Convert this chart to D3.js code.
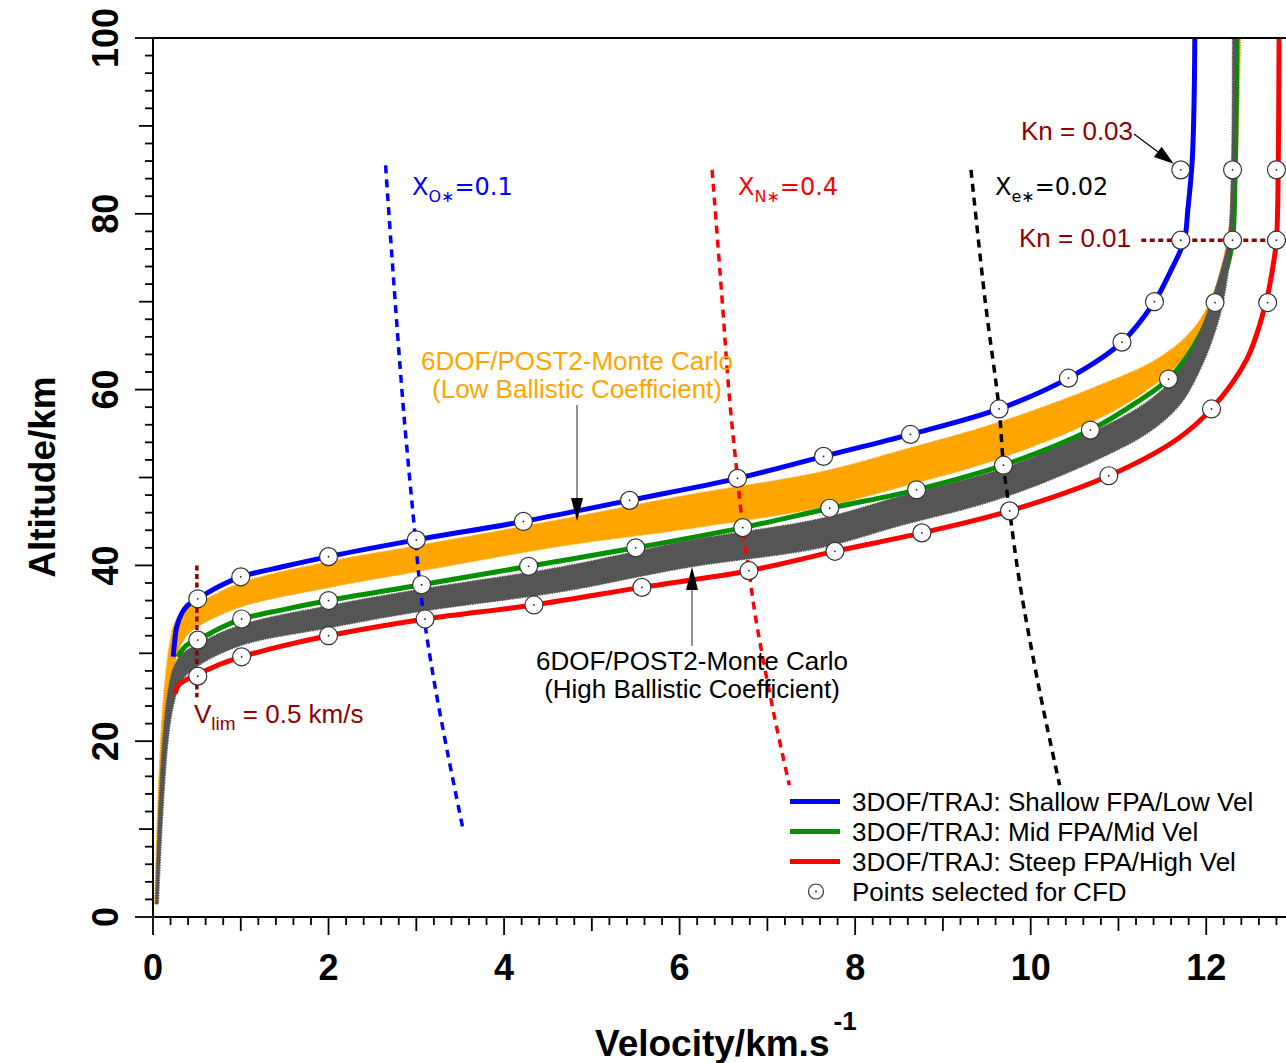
<!DOCTYPE html>
<html><head><meta charset="utf-8">
<script src="https://cdn.jsdelivr.net/npm/d3@7"></script>
<style>body{margin:0;background:#fff;} svg{display:block;}</style>
</head><body><svg id="c" width="1286" height="1063"></svg>
<script>
// ---------------- DATA ----------------
const xTickLabels = [0, 2, 4, 6, 8, 10, 12];
const yTickLabels = [0, 20, 40, 60, 80, 100];

// 3DOF/TRAJ trajectories [velocity km/s, altitude km]
const blueLine = [[0.23,29.6],[0.25,31.6],[0.27,33.0],[0.33,34.6],[0.39,35.4],[0.51,36.2],[0.75,37.6],[1.0,38.7],[1.5,39.9],[2.0,41.0],[3.0,42.9],[4.22,45.0],[5.43,47.4],[6.66,49.9],[7.64,52.4],[8.63,54.9],[9.64,57.8],[10.43,61.3],[11.04,65.4],[11.41,70.0],[11.6,73.6],[11.75,77.0],[11.79,80.4],[11.84,86],[11.86,92],[11.87,100]];
const greenLine = [[0.28,29.6],[0.38,30.9],[0.51,31.5],[0.75,32.8],[1.01,33.9],[1.5,35.0],[2.0,36.0],[3.06,37.8],[4.28,39.9],[5.5,42.0],[6.72,44.3],[7.71,46.5],[8.7,48.6],[9.69,51.4],[10.68,55.4],[11.2,58.5],[11.57,61.2],[11.85,64.8],[12.1,69.9],[12.24,74],[12.3,77],[12.33,85],[12.35,100]];
const redLine = [[0.25,25.4],[0.3,26.5],[0.4,27.1],[0.51,27.6],[0.75,28.7],[1.01,29.6],[1.5,30.9],[2.0,32.0],[3.1,33.9],[4.34,35.5],[5.57,37.5],[6.79,39.4],[7.77,41.6],[8.76,43.7],[9.76,46.2],[10.89,50.2],[11.66,54.3],[12.06,57.8],[12.46,63.4],[12.68,69.9],[12.76,74],[12.8,77],[12.82,85],[12.83,100]];

// Points selected for CFD
const cfdBlue = [[0.51,36.2],[1.0,38.7],[2.0,41.0],[3.0,42.9],[4.22,45.0],[5.43,47.4],[6.66,49.9],[7.64,52.4],[8.63,54.9],[9.64,57.8],[10.43,61.3],[11.04,65.4],[11.41,70.0],[11.71,77.0],[11.71,85.0]];
const cfdGreen = [[0.51,31.5],[1.01,33.9],[2.0,36.0],[3.06,37.8],[4.28,39.9],[5.5,42.0],[6.72,44.3],[7.71,46.5],[8.7,48.6],[9.69,51.4],[10.68,55.4],[11.57,61.2],[12.1,69.9],[12.3,77.0],[12.3,85.0]];
const cfdRed = [[0.51,27.4],[1.01,29.6],[2.0,32.0],[3.1,33.9],[4.34,35.5],[5.57,37.5],[6.79,39.4],[7.77,41.6],[8.76,43.7],[9.76,46.2],[10.89,50.2],[12.06,57.8],[12.7,69.9],[12.8,77.0],[12.8,85.0]];

// 6DOF/POST2 Monte Carlo envelopes (upper/left edge, lower/right edge)
const lowBCTop = [[0.02,1.5],[0.04,8],[0.065,15],[0.1,22],[0.14,27],[0.19,31],[0.25,33.5],[0.35,34.9],[0.5,35.6],[1.0,38.0],[2.0,40.4],[3.0,42.2],[4.64,45.2],[6.1,48.0],[7.6,50.6],[8.5,53.0],[9.65,56.3],[10.79,60.5],[11.43,63.4],[11.81,66.4],[12.04,69.9],[12.24,77],[12.3,86],[12.33,100]];
const lowBCBot = [[0.04,1.5],[0.07,8],[0.1,15],[0.14,21],[0.2,26],[0.28,30],[0.38,32],[0.5,33.0],[1.0,35.3],[2.0,37.5],[3.0,39.3],[4.64,42.2],[6.1,44.2],[7.6,46.6],[8.5,48.9],[9.65,52.2],[10.79,56.8],[11.3,59.8],[11.72,63.4],[12.0,68],[12.16,72],[12.28,77],[12.35,86],[12.39,100]];
const highBCTop = [[0.03,1.5],[0.05,8],[0.08,15],[0.12,21],[0.17,25.5],[0.24,28.5],[0.33,29.9],[0.5,31.0],[1.0,33.2],[2.0,35.4],[3.0,37.2],[4.64,39.8],[6.1,42.8],[7.6,45.3],[8.5,47.8],[9.65,50.9],[10.79,55.6],[11.3,58.4],[11.6,61.0],[11.85,64.7],[12.04,69.5],[12.18,74],[12.25,77],[12.29,86],[12.3,100]];
const highBCBot = [[0.06,1.5],[0.09,8],[0.13,15],[0.17,20],[0.23,24],[0.32,26.8],[0.5,28.5],[1.0,30.9],[2.0,32.9],[3.0,34.7],[4.64,37.0],[6.1,39.8],[7.6,42.0],[8.5,44.5],[9.65,47.6],[10.79,52.2],[11.35,55.2],[11.7,58.3],[11.93,62.3],[12.09,66.3],[12.19,69.9],[12.29,77],[12.33,86],[12.34,100]];

// Species mass-fraction iso-lines
const xO = [[2.65,85.5],[2.75,71.3],[2.86,57.0],[2.99,43.0],[3.04,37.8],[3.09,33.9],[3.2,27.0],[3.35,19.0],[3.53,10.1]];
const xN = [[6.37,85],[6.48,70.8],[6.57,58.8],[6.66,49.9],[6.72,44.3],[6.79,39.4],[6.87,33.8],[7.08,22.8],[7.25,15.0]];
const xE = [[9.32,85],[9.48,70.2],[9.64,57.8],[9.69,51.4],[9.76,46.2],[9.87,38.3],[10.1,25.8],[10.33,15.0]];

// Reference limits
const knLimitAlt = 77;        // Kn = 0.01
const knLimitV = [11.26, 13];
const vLim = 0.5;             // km/s
const vLimAlt = [25, 40];

const legendItems = [
  {label: "3DOF/TRAJ: Shallow FPA/Low Vel", color: "#0000ff"},
  {label: "3DOF/TRAJ: Mid FPA/Mid Vel", color: "#009000"},
  {label: "3DOF/TRAJ: Steep FPA/High Vel", color: "#ff0000"},
  {label: "Points selected for CFD", color: null}
];

// ---------------- DRAW ----------------
const FONT = "'Liberation Sans', Arial, Helvetica, sans-serif";
const DARKRED = "#8f0000";
const svg = d3.select('#c');
const x = d3.scaleLinear().domain([0, 13]).range([153, 1294]);
const y = d3.scaleLinear().domain([0, 100]).range([917, 38]);

svg.append('defs').append('clipPath').attr('id', 'clip')
  .append('rect').attr('x', 153).attr('y', 38).attr('width', 1141).attr('height', 879);

const line = d3.line().x(d => x(d[0])).y(d => y(d[1])).curve(d3.curveCatmullRom.alpha(0.5));
const plot = svg.append('g').attr('clip-path', 'url(#clip)');

function bandPath(top, bot) {
  const a = line(top);
  const b = line(bot.slice().reverse());
  return a + 'L' + b.slice(1) + 'Z';
}

// bands and mid trajectory
plot.append('path').attr('d', bandPath(lowBCTop, lowBCBot)).attr('fill', '#ffa500')
  .attr('stroke', '#ffa500').attr('stroke-width', 1.5).attr('stroke-dasharray', '1.5,1');
plot.append('path').attr('d', line(greenLine)).attr('fill', 'none').attr('stroke', '#009000').attr('stroke-width', 5);
plot.append('path').attr('d', bandPath(highBCTop, highBCBot)).attr('fill', '#555555')
  .attr('stroke', '#555555').attr('stroke-width', 1.5).attr('stroke-dasharray', '1.5,1');

// dashed iso-lines
[[xO, '#0000ff'], [xN, '#ff0000'], [xE, '#000000']].forEach(([d, c]) => {
  plot.append('path').attr('d', line(d)).attr('fill', 'none').attr('stroke', c)
    .attr('stroke-width', 3.5).attr('stroke-dasharray', '8,6');
});

// solid trajectories
plot.append('path').attr('d', line(blueLine)).attr('fill', 'none').attr('stroke', '#0000ff').attr('stroke-width', 5);
plot.append('path').attr('d', line(redLine)).attr('fill', 'none').attr('stroke', '#ff0000').attr('stroke-width', 5);

// reference dotted lines
plot.append('line').attr('x1', x(knLimitV[0])).attr('x2', x(knLimitV[1]))
  .attr('y1', y(knLimitAlt)).attr('y2', y(knLimitAlt))
  .attr('stroke', DARKRED).attr('stroke-width', 3.5).attr('stroke-dasharray', '5,3.5');
plot.append('line').attr('x1', x(vLim)).attr('x2', x(vLim))
  .attr('y1', y(vLimAlt[1])).attr('y2', y(vLimAlt[0]))
  .attr('stroke', DARKRED).attr('stroke-width', 3.5).attr('stroke-dasharray', '5,3.5');

// CFD points
function marker(g, cx, cy, r) {
  g.append('circle').attr('cx', cx).attr('cy', cy).attr('r', r)
    .attr('fill', '#fff').attr('stroke', '#333').attr('stroke-width', 1.2);
  g.append('circle').attr('cx', cx).attr('cy', cy).attr('r', 0.9).attr('fill', '#222');
}
const mk = svg.append('g');
[cfdBlue, cfdGreen, cfdRed].forEach(arr => arr.forEach(d => marker(mk, x(d[0]), y(d[1]), 9)));

// ---------------- AXES ----------------
const minorX = d3.range(0, 66).map(i => ({v: i * 0.2, i}));
const minorY = d3.range(0, 51).map(i => ({v: i * 2, i}));
const ax = svg.append('g');
const tickLen = i => (i % 10 === 0 ? 18 : (i % 5 === 0 ? 14 : 8));
minorX.forEach(t => {
  if (x(t.v) > 1290) return;
  ax.append('line').attr('x1', x(t.v)).attr('x2', x(t.v)).attr('y1', 917).attr('y2', 917 + tickLen(t.i))
    .attr('stroke', '#000').attr('stroke-width', 1.8);
});
minorY.forEach(t => {
  ax.append('line').attr('y1', y(t.v)).attr('y2', y(t.v)).attr('x1', 153).attr('x2', 153 - tickLen(t.i))
    .attr('stroke', '#000').attr('stroke-width', 1.8);
});
ax.append('line').attr('x1', 153).attr('x2', 1294).attr('y1', 917).attr('y2', 917).attr('stroke', '#000').attr('stroke-width', 2);
ax.append('line').attr('x1', 153).attr('x2', 153).attr('y1', 38).attr('y2', 917).attr('stroke', '#000').attr('stroke-width', 2);
ax.append('line').attr('x1', 153).attr('x2', 1294).attr('y1', 38).attr('y2', 38).attr('stroke', '#000').attr('stroke-width', 2);
ax.append('line').attr('x1', 1294).attr('x2', 1294).attr('y1', 38).attr('y2', 917).attr('stroke', '#000').attr('stroke-width', 2);

xTickLabels.forEach(v => {
  ax.append('text').attr('x', x(v)).attr('y', 980).attr('text-anchor', 'middle')
    .style('font', `bold 36px ${FONT}`).text(v);
});
yTickLabels.forEach(v => {
  ax.append('text').attr('transform', `translate(118,${y(v)}) rotate(-90)`).attr('text-anchor', 'middle')
    .style('font', `bold 36px ${FONT}`).text(v);
});
const xt = ax.append('text').attr('x', 595).attr('y', 1056).style('font', `bold 37px ${FONT}`);
xt.append('tspan').text('Velocity/km.s');
xt.append('tspan').attr('dy', -26).attr('dx', 4).style('font-size', '26px').text('-1');
ax.append('text').attr('transform', 'translate(55,477) rotate(-90)').attr('text-anchor', 'middle')
  .style('font', `bold 37px ${FONT}`).text('Altitude/km');

// ---------------- ANNOTATIONS ----------------
const an = svg.append('g');
function arrow(x1, y1, x2, y2, color, w, headLen, headW) {
  const dx = x2 - x1, dy = y2 - y1, L = Math.hypot(dx, dy), ux = dx / L, uy = dy / L;
  const bx = x2 - ux * headLen, by = y2 - uy * headLen;
  an.append('line').attr('x1', x1).attr('y1', y1).attr('x2', bx).attr('y2', by).attr('stroke', color).attr('stroke-width', w);
  an.append('path').attr('d', `M${x2},${y2}L${bx - uy * headW / 2},${by + ux * headW / 2}L${bx + uy * headW / 2},${by - ux * headW / 2}Z`).attr('fill', '#000');
}
function isoLabel(px, py, sub, rest, color) {
  const t = an.append('text').attr('x', px).attr('y', py).attr('fill', color)
    .style('font-family', "'DejaVu Sans', Verdana, sans-serif").style('font-size', '24px');
  t.append('tspan').text('X');
  t.append('tspan').attr('dy', 7).style('font-size', '16px').text(sub);
  t.append('tspan').attr('dy', -7).text(rest);
}
isoLabel(412, 195, 'O\u2217', '=0.1', '#0000ff');
isoLabel(738, 195, 'N\u2217', '=0.4', '#ff0000');
isoLabel(995, 195, 'e\u2217', '=0.02', '#000000');

an.append('text').attr('x', 1021).attr('y', 140).attr('fill', DARKRED).style('font', `26px ${FONT}`).text('Kn = 0.03');
arrow(1134, 134, x(11.71) - 7, y(85) - 6, '#000', 1.2, 20, 13);
an.append('text').attr('x', 1019).attr('y', 247).attr('fill', DARKRED).style('font', `26px ${FONT}`).text('Kn = 0.01');

const vl = an.append('text').attr('x', 194).attr('y', 723).attr('fill', DARKRED).style('font', `26px ${FONT}`);
vl.append('tspan').text('V');
vl.append('tspan').attr('dy', 7).style('font-size', '19px').text('lim');
vl.append('tspan').attr('dy', -7).text(' = 0.5 km/s');

an.append('text').attr('x', 577).attr('y', 370).attr('text-anchor', 'middle').attr('fill', '#ffa500')
  .style('font', `26px ${FONT}`).text('6DOF/POST2-Monte Carlo');
an.append('text').attr('x', 577).attr('y', 398).attr('text-anchor', 'middle').attr('fill', '#ffa500')
  .style('font', `26px ${FONT}`).text('(Low Ballistic Coefficient)');
arrow(577, 405, 577, 521, '#777', 1.6, 23, 12);

an.append('text').attr('x', 692).attr('y', 670).attr('text-anchor', 'middle').attr('fill', '#000')
  .style('font', `26px ${FONT}`).text('6DOF/POST2-Monte Carlo');
an.append('text').attr('x', 692).attr('y', 698).attr('text-anchor', 'middle').attr('fill', '#000')
  .style('font', `26px ${FONT}`).text('(High Ballistic Coefficient)');
arrow(692, 646, 692, 567, '#777', 1.6, 23, 12);

// ---------------- LEGEND ----------------
const lg = svg.append('g');
legendItems.forEach((it, i) => {
  const cy = 801.5 + i * 30;
  if (it.color) {
    lg.append('line').attr('x1', 790).attr('x2', 840).attr('y1', cy).attr('y2', cy)
      .attr('stroke', it.color).attr('stroke-width', 5);
  } else {
    marker(lg, 816, cy, 7.5);
  }
  lg.append('text').attr('x', 852).attr('y', cy + 9).style('font', `26px ${FONT}`).attr('fill', '#000').text(it.label);
});
</script>
</body></html>
